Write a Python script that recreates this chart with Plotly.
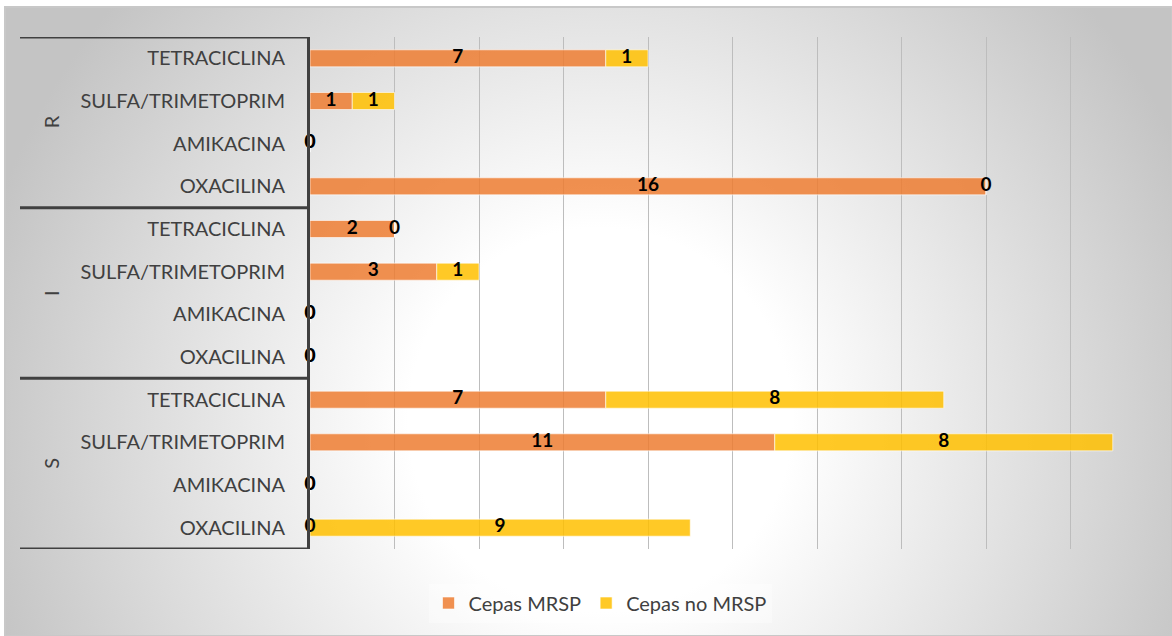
import base64
import plotly.graph_objects as go

# ---- data (display order: top to bottom) ----
groups = ["R", "R", "R", "R", "I", "I", "I", "I", "S", "S", "S", "S"]
drugs = ["TETRACICLINA", "SULFA/TRIMETOPRIM", "AMIKACINA", "OXACILINA",
         "TETRACICLINA", "SULFA/TRIMETOPRIM", "AMIKACINA", "OXACILINA",
         "TETRACICLINA", "SULFA/TRIMETOPRIM", "AMIKACINA", "OXACILINA"]
cepas_mrsp = [7, 1, 0, 16, 2, 3, 0, 0, 7, 11, 0, 0]
cepas_no_mrsp = [1, 1, 0, 0, 0, 1, 0, 0, 8, 8, 0, 9]
group_names = ["R", "I", "S"]
series_names = ["Cepas MRSP", "Cepas no MRSP"]

W, H = 1172, 636
L, R, T, B = 310, 17, 37, 87
PW, PH = W - L - R, H - T - B

cats = [f"{g}|{d}" for g, d in zip(groups, drugs)]

ORANGE = "rgba(237,125,49,0.85)"
YELLOW = "rgba(255,192,0,0.85)"
TXT = "#404040"
FONT = "Lato, 'Open Sans', sans-serif"

fig = go.Figure()
fig.add_trace(go.Bar(y=cats, x=cepas_mrsp, orientation="h", name=series_names[0],
                     marker=dict(color=ORANGE, line=dict(color="rgba(255,255,255,0.6)", width=1)),
                     hoverinfo="x"))
fig.add_trace(go.Bar(y=cats, x=cepas_no_mrsp, base=cepas_mrsp, orientation="h", name=series_names[1],
                     marker=dict(color=YELLOW, line=dict(color="rgba(255,255,255,0.6)", width=1)),
                     hoverinfo="x"))

# data labels (centered in each segment)
lab_x = [v / 2 for v in cepas_mrsp] + [a + b / 2 for a, b in zip(cepas_mrsp, cepas_no_mrsp)]
lab_y = cats + cats
lab_t = [str(v) for v in cepas_mrsp] + [str(v) for v in cepas_no_mrsp]
fig.add_trace(go.Scatter(x=lab_x, y=lab_y, mode="text", text=lab_t, showlegend=False,
                         textfont=dict(family=FONT, size=19, color="black", weight="bold"),
                         hoverinfo="skip", cliponaxis=False))

# background gradient
svg = f'''<svg xmlns="http://www.w3.org/2000/svg" width="{W}" height="{H}">
<defs><radialGradient id="g" gradientUnits="userSpaceOnUse" cx="600" cy="420" r="640">
<stop offset="0" stop-color="#ffffff"/><stop offset="0.3" stop-color="#ffffff"/>
<stop offset="1" stop-color="#c4c4c4"/></radialGradient></defs>
<rect width="{W}" height="{H}" fill="#ffffff"/>
<rect x="5" y="7" width="{W-5}" height="{H-7}" fill="url(#g)" stroke="#c8c8c8" stroke-width="2"/>
</svg>'''
src = "data:image/svg+xml;base64," + base64.b64encode(svg.encode()).decode()

fig.add_layout_image(dict(source=src, xref="paper", yref="paper",
                          x=-L / PW, y=1 + T / PH, sizex=W / PW, sizey=H / PH,
                          xanchor="left", yanchor="top", sizing="stretch", layer="below"))

# group dividers and labels
n = len(cats)
ngroup = len(group_names)
per = n // ngroup
x_left = (20 - L) / PW
shapes = []
for k in range(ngroup + 1):
    yb = k * per - 0.5
    shapes.append(dict(type="line", xref="paper", yref="y", x0=x_left, x1=0, y0=yb, y1=yb,
                       line=dict(color=TXT, width=3)))
annotations = []
for k, gname in enumerate(group_names):
    annotations.append(dict(text=gname, xref="paper", yref="y", x=(37 - L) / PW,
                            y=k * per + (per - 1) / 2, showarrow=False, textangle=-90,
                            font=dict(family=FONT, size=20, color=TXT)))

legend_y = (T + PH - 603) / PH

fig.update_layout(
    width=W, height=H, margin=dict(l=L, r=R, t=T, b=B, autoexpand=False),
    barmode="overlay", bargap=0.6,
    paper_bgcolor="rgba(0,0,0,0)", plot_bgcolor="rgba(0,0,0,0)",
    shapes=shapes, annotations=annotations,
    font=dict(family=FONT, color=TXT),
    legend=dict(orientation="h", x=(600 - L) / PW, xanchor="center", y=legend_y,
                yanchor="middle", bgcolor="rgba(255,255,255,0.35)",
                font=dict(family=FONT, size=20, color=TXT), traceorder="normal"),
    showlegend=True,
)
fig.update_xaxes(range=[0, 20], dtick=2, showticklabels=False, showgrid=True,
                 gridcolor="#bdbdbd", gridwidth=1, zeroline=False, fixedrange=True)
fig.update_yaxes(type="category", categoryorder="array", categoryarray=cats,
                 range=[n - 0.5, -0.5], tickvals=cats, ticktext=drugs,
                 tickfont=dict(family=FONT, size=20, color=TXT),
                 ticks="outside", ticklen=18, tickcolor="rgba(0,0,0,0)",
                 showline=True, linecolor=TXT, linewidth=3, showgrid=False, fixedrange=True)

fig.write_html("out.html")
